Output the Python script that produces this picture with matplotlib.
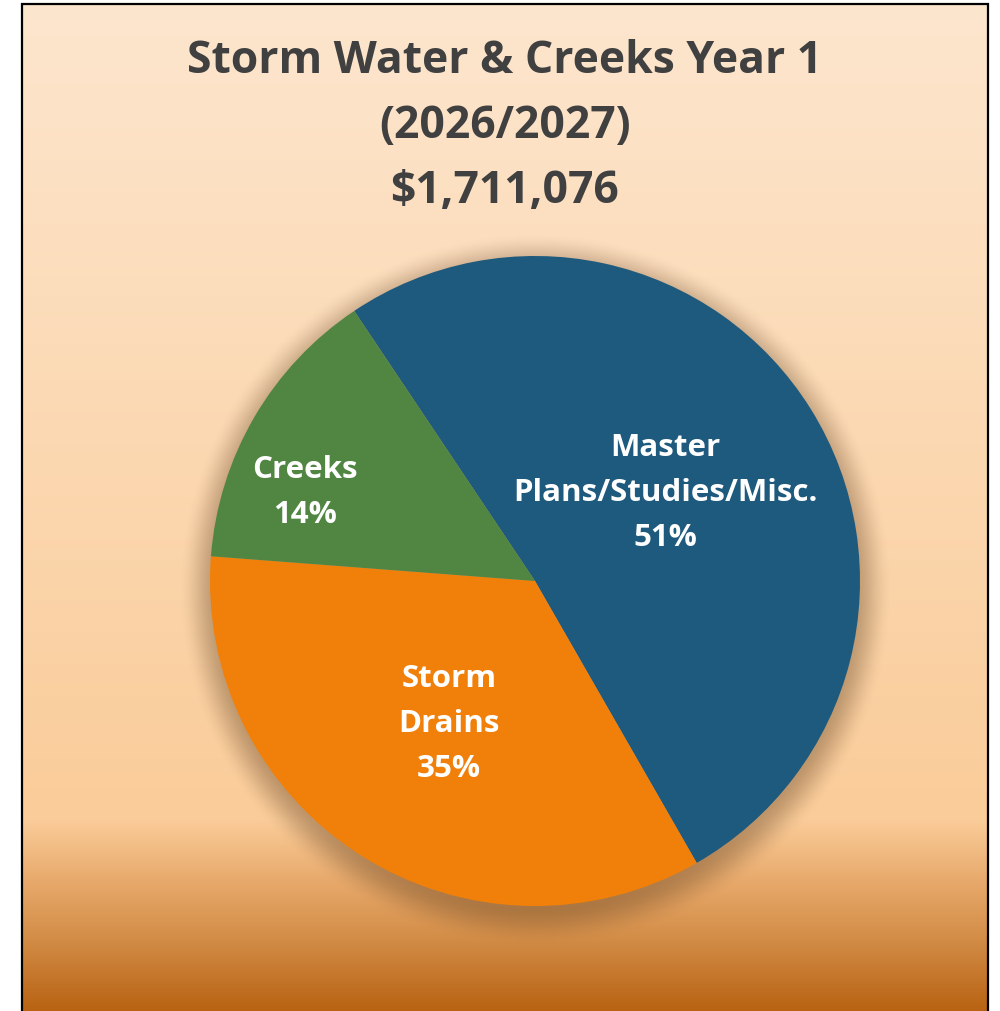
import matplotlib
matplotlib.use("Agg")
import matplotlib.pyplot as plt
import numpy as np

# data
categories = ["Master\nPlans/Studies/Misc.", "Storm\nDrains", "Creeks"]
shares = [51.1, 34.5, 14.4]
pct_labels = ["51%", "35%", "14%"]
colors = ["#1E5A7D", "#F0800A", "#518642"]
title_lines = ["Storm Water & Creeks Year 1", "(2026/2027)", "$1,711,076"]

W, H = 1000, 1012
plt.rcParams['font.family'] = ['Open Sans', 'DejaVu Sans']

fig = plt.figure(figsize=(W / 100, H / 100), dpi=100)
ax = fig.add_axes([0, 0, 1, 1])
ax.set_xlim(0, W)
ax.set_ylim(0, H)
ax.set_aspect('equal')
ax.axis('off')

# box
left, right, top = 22, 988, H - 5

# background gradient (top -> bottom), stops in pixel rows from top
stop_y = [0, 820, 880, 940, 1012]
stop_c = np.array([[253, 230, 206], [250, 204, 153], [232, 170, 108],
                   [210, 140, 70], [184, 98, 18]]) / 255.0
rows = np.arange(H)
grad = np.stack([np.interp(rows, stop_y, stop_c[:, k]) for k in range(3)], axis=1)
img = np.repeat(grad[:, None, :], 10, axis=1)
ax.imshow(img, extent=(left, right, 0, top), aspect='auto', zorder=0)

# pie geometry
cx, cy, R = 535, H - 582, 325

# soft shadow under the pie
xs = np.arange(left, right)
ys = np.arange(0, top)
gx, gy = np.meshgrid(xs, ys)
d = np.hypot(gx - cx, gy - (cy - 9)) - R
t = np.clip((d + 8) / 40.0, 0, 1)
alpha = 0.38 * (1 - t * t * (3 - 2 * t))
shadow = np.zeros((len(ys), len(xs), 4))
shadow[..., 0] = 0.35
shadow[..., 1] = 0.22
shadow[..., 2] = 0.10
shadow[..., 3] = alpha
ax.imshow(shadow, extent=(left, right, 0, top), origin='lower', aspect='auto', zorder=1)

wedges, _ = ax.pie(shares, colors=colors, startangle=123.8, counterclock=False,
                   center=(cx, cy), radius=R, frame=True,
                   wedgeprops=dict(linewidth=0, zorder=2))
ax.set_xlim(0, W)
ax.set_ylim(0, H)
ax.axis('off')

# slice labels
label_dist = [0.485, 0.51, 0.76]
label_shift = [2.5, 1, 9]
for w, name, pct, dist, sh in zip(wedges, categories, pct_labels, label_dist, label_shift):
    ang = np.deg2rad((w.theta1 + w.theta2) / 2 + sh)
    x = cx + dist * R * np.cos(ang)
    y = cy + dist * R * np.sin(ang)
    ax.text(x, y, name + "\n" + pct, ha='center', va='center', color='white',
            fontsize=22.5, fontweight='bold', linespacing=1.66, zorder=3)

# title
for i, line in enumerate(title_lines):
    ax.text((left + right) / 2, H - 61 - i * 65, line, ha='center', va='center',
            color='#404040', fontsize=32, fontweight='bold', zorder=3)

# frame lines (left, top, right)
ax.plot([left, left, right, right], [0, top, top, 0], color='black', lw=1.6,
        zorder=4, solid_joinstyle='miter')

fig.savefig('out.png', dpi=100)
